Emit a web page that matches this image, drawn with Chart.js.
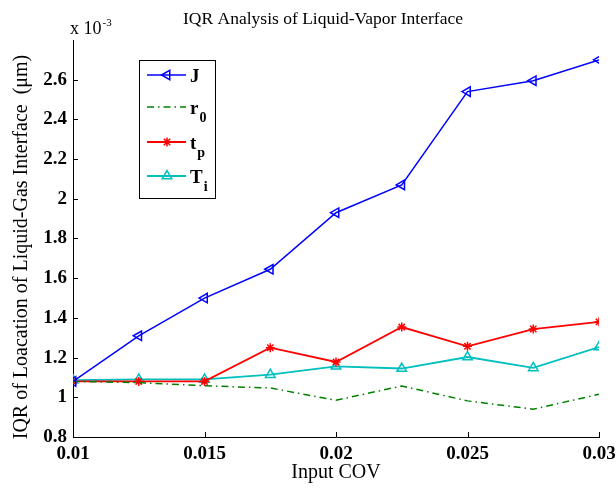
<!DOCTYPE html>
<html>
<head>
<meta charset="utf-8">
<script src="https://cdn.jsdelivr.net/npm/chart.js@4.4.1/dist/chart.umd.min.js"></script>
<style>
  html, body { margin: 0; padding: 0; background: #fff; }
  #wrap { width: 616px; height: 489px; }
</style>
</head>
<body>
<div id="wrap"><canvas id="c" width="616" height="489"></canvas></div>
<script>
// Input coefficient of variation (x axis)
const covValues = [0.01, 0.0125, 0.015, 0.0175, 0.02, 0.0225, 0.025, 0.0275, 0.03];
// IQR of the interface location, in units of 1e-3 µm
const jValues  = [1.08, 1.31, 1.50, 1.645, 1.93, 2.07, 2.54, 2.595, 2.70];
const r0Values = [1.08, 1.074, 1.058, 1.047, 0.985, 1.057, 0.982, 0.94, 1.015];
const tpValues = [1.08, 1.08, 1.08, 1.25, 1.178, 1.354, 1.257, 1.344, 1.38];
const tiValues = [1.086, 1.09, 1.09, 1.114, 1.156, 1.145, 1.203, 1.148, 1.253];
// Axis ticks
const xTickValues = [0.01, 0.015, 0.02, 0.025, 0.03];
const xTickLabels = ['0.01', '0.015', '0.02', '0.025', '0.03'];
const yTickValues = [0.8, 1.0, 1.2, 1.4, 1.6, 1.8, 2.0, 2.2, 2.4, 2.6];
const yTickLabels = ['0.8', '1', '1.2', '1.4', '1.6', '1.8', '2', '2.2', '2.4', '2.6'];
// Series names: main letter + subscript
const seriesNames = [['J', ''], ['r', '0'], ['t', 'p'], ['T', 'i']];

const SERIF = '"Liberation Serif", "Times New Roman", serif';

function pts(ys) { return covValues.map((x, i) => ({ x: x, y: ys[i] })); }

const datasets = [
  { data: pts(jValues), borderColor: '#0000ff', borderWidth: 1.5,
    pointStyle: 'triangle', pointRotation: -90, pointRadius: 5.5,
    pointBorderWidth: 1.5, pointBackgroundColor: 'rgba(0,0,0,0)', pointBorderColor: '#0000ff' },
  { data: pts(r0Values), borderColor: '#008000', borderWidth: 1.5,
    borderDash: [7, 4, 1.5, 4], pointRadius: 0 },
  { data: pts(tpValues), borderColor: '#ff0000', borderWidth: 1.8,
    pointStyle: 'star', pointRadius: 4.5, pointBorderWidth: 1.5,
    pointBorderColor: '#ff0000', pointBackgroundColor: '#ff0000' },
  { data: pts(tiValues), borderColor: '#00bfbf', borderWidth: 1.8,
    pointStyle: 'triangle', pointRadius: 5.5, pointBorderWidth: 1.5,
    pointBackgroundColor: 'rgba(0,0,0,0)', pointBorderColor: '#00bfbf' }
];
datasets.forEach(d => { d.fill = false; d.tension = 0; });

// Inward tick marks, titles, exponent note and the legend with subscripts
const decorations = {
  id: 'decorations',
  afterDatasetsDraw(chart) {
    const ctx = chart.ctx;
    const xs = chart.scales.x, ys = chart.scales.y;
    const area = chart.chartArea;
    ctx.save();
    ctx.strokeStyle = '#000';
    ctx.lineWidth = 1;
    ctx.beginPath();
    xTickValues.forEach(v => {
      const px = Math.round(xs.getPixelForValue(v)) + 0.5;
      ctx.moveTo(px, area.bottom); ctx.lineTo(px, area.bottom - 5);
    });
    yTickValues.forEach(v => {
      const py = Math.round(ys.getPixelForValue(v)) + 0.5;
      ctx.moveTo(area.left, py); ctx.lineTo(area.left + 5, py);
    });
    ctx.stroke();

    ctx.fillStyle = '#000';
    // chart title
    ctx.font = '17.5px ' + SERIF;
    ctx.textAlign = 'center';
    ctx.textBaseline = 'alphabetic';
    ctx.fillText('IQR Analysis of Liquid-Vapor Interface', 323, 24);

    // exponent note above the y axis
    ctx.textAlign = 'left';
    ctx.font = '18px ' + SERIF;
    ctx.fillText('x 10', 70, 34);
    const w = ctx.measureText('x 10').width;
    ctx.font = '11px ' + SERIF;
    ctx.fillText('-3', 70 + w + 1, 26);

    // x axis title
    ctx.font = '20px ' + SERIF;
    ctx.textAlign = 'center';
    ctx.fillText('Input COV', (area.left + area.right) / 2, 478);

    // y axis title
    ctx.save();
    ctx.translate(27, 247);
    ctx.rotate(-Math.PI / 2);
    ctx.font = '20px ' + SERIF;
    ctx.textAlign = 'center';
    ctx.fillText('IQR of Loacation of Liquid-Gas Interface  (\u03bcm)', 0, 0);
    ctx.restore();

    // legend
    const lx = 139.5, ly = 60.5, lw = 76, lh = 138;
    ctx.fillStyle = '#fff';
    ctx.fillRect(lx, ly, lw, lh);
    ctx.strokeStyle = '#000';
    ctx.lineWidth = 1;
    ctx.strokeRect(lx, ly, lw, lh);
    const rowY = [75, 107, 142, 176];
    chart.data.datasets.forEach((ds, i) => {
      const y = rowY[i];
      ctx.save();
      ctx.strokeStyle = ds.borderColor;
      ctx.lineWidth = ds.borderWidth;
      ctx.setLineDash(ds.borderDash || []);
      ctx.beginPath();
      ctx.moveTo(147, y); ctx.lineTo(186, y);
      ctx.stroke();
      ctx.setLineDash([]);
      if (ds.pointRadius > 0) {
        ctx.strokeStyle = ds.pointBorderColor;
        ctx.fillStyle = ds.pointBackgroundColor;
        ctx.lineWidth = ds.pointBorderWidth;
        Chart.helpers.drawPoint(ctx, {
          pointStyle: ds.pointStyle, rotation: ds.pointRotation || 0,
          radius: ds.pointRadius, borderWidth: ds.pointBorderWidth
        }, 167, y);
      }
      ctx.restore();
      ctx.fillStyle = '#000';
      ctx.textAlign = 'left';
      ctx.font = 'bold 19px ' + SERIF;
      ctx.fillText(seriesNames[i][0], 190, y + 7);
      const mw = ctx.measureText(seriesNames[i][0]).width;
      if (seriesNames[i][1]) {
        ctx.font = 'bold 14px ' + SERIF;
        ctx.fillText(seriesNames[i][1], 190 + mw + 1, y + 15);
      }
    });
    ctx.restore();
  }
};

function noLabelPadding(s) {
  s.paddingLeft = 0; s.paddingRight = 0; s.paddingTop = 0; s.paddingBottom = 0;
}

new Chart(document.getElementById('c'), {
  type: 'line',
  data: { datasets: datasets },
  options: {
    responsive: false,
    animation: false,
    devicePixelRatio: 1,
    layout: { padding: { top: 40, right: 17, left: 0, bottom: 0 } },
    plugins: { legend: { display: false }, title: { display: false }, tooltip: { enabled: false } },
    scales: {
      x: {
        type: 'linear', min: 0.01, max: 0.03,
        afterFit(s) { s.height = 52; noLabelPadding(s); },
        afterBuildTicks(s) { s.ticks = xTickValues.map(v => ({ value: v })); },
        grid: { display: false, drawTicks: false },
        border: { display: true, color: '#000', width: 1 },
        ticks: {
          padding: 6, color: '#000',
          font: { family: SERIF, size: 19, weight: 'bold' },
          maxRotation: 0, autoSkip: false,
          callback: (v) => { const i = xTickValues.findIndex(t => Math.abs(t - v) < 1e-9); return i >= 0 ? xTickLabels[i] : ''; }
        }
      },
      y: {
        type: 'linear', min: 0.8, max: 2.8,
        afterFit(s) { s.width = 73; noLabelPadding(s); },
        afterBuildTicks(s) { s.ticks = yTickValues.map(v => ({ value: v })); },
        grid: { display: false, drawTicks: false },
        border: { display: true, color: '#000', width: 1 },
        ticks: {
          padding: 6, color: '#000',
          font: { family: SERIF, size: 19, weight: 'bold' },
          autoSkip: false,
          callback: (v) => { const i = yTickValues.findIndex(t => Math.abs(t - v) < 1e-9); return i >= 0 ? yTickLabels[i] : ''; }
        }
      }
    }
  },
  plugins: [decorations]
});
</script>
</body>
</html>
